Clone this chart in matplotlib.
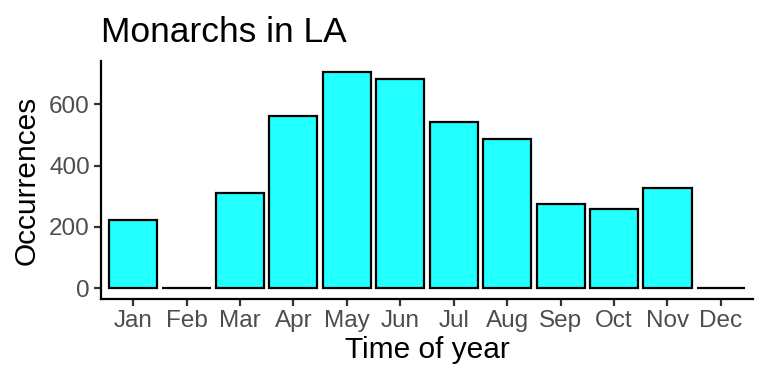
import matplotlib
matplotlib.use("Agg")
import matplotlib.pyplot as plt

# --- données ---
months = ["Jan", "Feb", "Mar", "Apr", "May", "Jun",
          "Jul", "Aug", "Sep", "Oct", "Nov", "Dec"]
occurrences = [224, 0, 309, 563, 706, 682, 543, 487, 276, 259, 327, 0]
y_ticks = [0, 200, 400, 600]

plt.rcParams["font.family"] = ["Liberation Sans", "DejaVu Sans"]

fig = plt.figure(figsize=(7.68, 3.84), dpi=100)
ax = fig.add_axes([101 / 768, 1 - 299 / 384, 652 / 768, 238 / 384])

x = list(range(1, len(months) + 1))
ax.bar(x, occurrences, width=0.9, color="#22FFFF", edgecolor="black", linewidth=1.6)

ax.set_xlim(0.4, 12.6)
ymax = max(occurrences)
ax.set_ylim(-0.05 * ymax, 1.05 * ymax)
ax.set_xticks(x)
ax.set_xticklabels(months)
ax.set_yticks(y_ticks)

for side in ["top", "right"]:
    ax.spines[side].set_visible(False)
for side in ["left", "bottom"]:
    ax.spines[side].set_linewidth(1.6)
    ax.spines[side].set_color("black")

ax.tick_params(axis="both", length=5, width=1.6, color="#333333",
               labelcolor="#4D4D4D", labelsize=17.5, pad=3)

ax.set_xlabel("Time of year", fontsize=21.5, color="black", labelpad=3)
ax.set_ylabel("Occurrences", fontsize=21.5, color="black", labelpad=6)
ax.set_title("Monarchs in LA", loc="left", fontsize=25.5, color="black", pad=14)

fig.savefig("out.png", dpi=100)
